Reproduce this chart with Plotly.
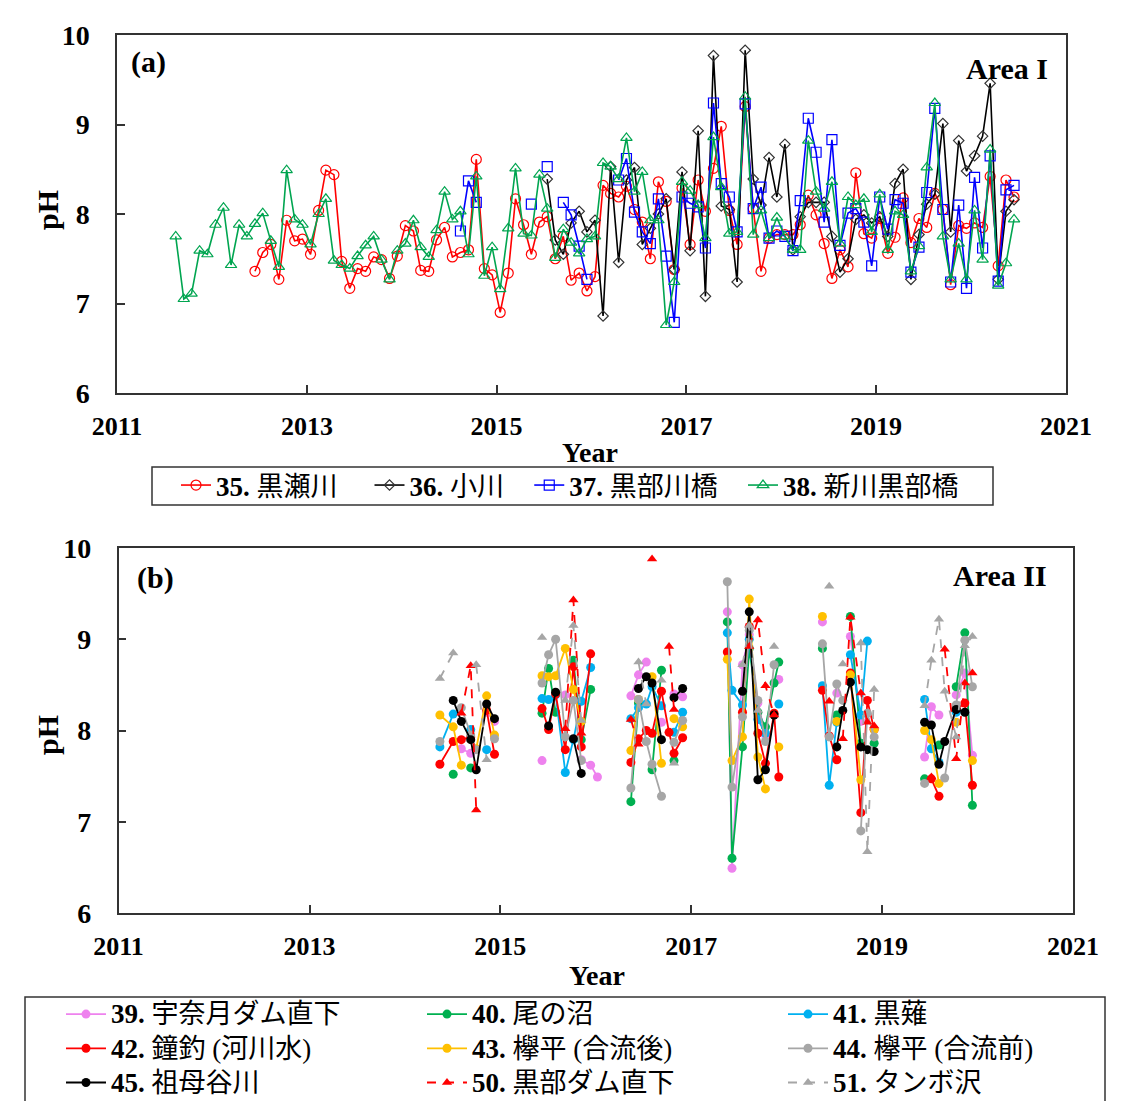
import pandas as pd
import plotly.graph_objects as go

# ---------------- Panel (a): Area I, monthly pH ----------------
A_NAMES = ["35. 黒瀬川", "36. 小川", "37. 黒部川橋", "38. 新川黒部橋"]
A_START = ["2012-06", "2015-07", "2014-08", "2011-08"]

PH_35 = [7.36, 7.57, 7.66, 7.27, 7.93, 7.70, 7.72,
         7.55, 8.04, 8.49, 8.44, 7.47, 7.17, 7.39, 7.36, 7.52, 7.49, 7.28, 7.53,
         7.87, 7.81, 7.37, 7.36, 7.71, 7.85, 7.52, 7.57, 7.60, 8.61, 7.39, 7.32,
         6.90, 7.34, 8.17, 7.88, 7.55, 7.91, 7.97, 7.50, 7.75, 7.26, 7.34, 7.14,
         7.30, 8.32, 8.23, 8.19, 8.31, 8.05, 7.91, 7.50, 8.36, 8.14, 7.38, 8.29,
         7.66, 8.38, 8.03, 8.51, 8.98, 8.04, 7.66, 9.20, 8.06, 7.36, 7.73, 7.77,
         7.77, 7.77, 7.88, 8.21, 7.99, 7.67, 7.28, 7.60, 7.41, 8.46, 7.78, 7.73,
         7.95, 7.56, 7.74, 8.18, 7.68, 7.95, 7.85, 8.23, 8.05, 7.21, 7.87, 7.84,
         7.90, 7.85, 8.42, 7.42, 8.38, 8.19]
PH_36 = [8.39, 7.71, 7.55, 7.90, 8.03, 7.80,
         7.93, 6.86, 8.53, 7.46, 8.38, 8.52, 7.66, 7.84, 8.00, 8.17, 7.38, 8.47,
         7.59, 8.93, 7.08, 9.77, 8.09, 8.05, 7.24, 9.83, 8.39, 8.10, 8.63, 8.19,
         8.78, 7.60, 7.97, 8.13, 8.13, 8.13, 7.75, 7.35, 7.50, 7.94, 7.99, 7.90,
         7.97, 7.75, 8.34, 8.50, 7.27, 7.77, 8.11, 8.22, 9.01, 7.80, 8.82, 8.48,
         8.65, 8.87, 9.46, 7.27, 8.03, 8.16]
PH_37 = [7.81, 8.37, 8.13, None, None,
         None, None, None, None, 8.11, None, 8.53, None, 8.13, 7.99, 7.64, 7.27,
         None, None, None, 8.38, 8.62, 8.02, 7.80, 7.67, 8.17, 7.53, 6.79, 8.19,
         8.12, 8.08, 7.62, 9.24, 8.34, 8.19, 7.80, 9.23, 8.06, 8.30, 7.73, 7.81,
         7.75, 7.59, 8.15, 9.07, 8.69, 7.91, 8.83, 7.65, 8.01, 8.06, 7.91, 7.42,
         8.19, 7.83, 8.16, 8.12, 7.35, 7.63, 8.24, 9.18, 8.05, 7.24, 8.10, 7.17,
         8.41, 7.62, 8.65, 7.25, 8.27, 8.32]
PH_38 = [7.75, 7.05, 7.11, 7.59, 7.55,
         7.88, 8.07, 7.43, 7.88, 7.75, 7.89, 8.01, 7.70, 7.41, 8.49, 7.94, 7.88,
         7.66, 8.00, 8.17, 7.48, 7.43, 7.39, 7.53, 7.65, 7.75, 7.49, 7.27, 7.59,
         7.67, 7.93, 7.63, 7.52, 7.82, 8.25, 7.94, 8.03, 7.55, 8.42, 7.31, 7.63,
         7.16, 7.84, 8.51, 7.78, 7.76, 8.44, 8.06, 7.51, 7.83, 7.68, 7.56, 7.72,
         7.75, 8.57, 8.53, 8.39, 8.85, 8.25, 8.47, 7.93, 7.93, 6.76, 7.24, 8.36,
         8.26, 8.10, 7.73, 8.86, 8.30, 7.78, 7.80, 9.31, 7.77, 8.04, 7.73, 7.96,
         7.75, 7.60, 7.60, 8.82, 8.25, 8.06, 8.36, 7.67, 8.19, 8.10, 8.17, 7.80,
         8.22, 7.60, 8.03, 7.99, 7.36, 7.64, 8.52, 9.24, 7.75, 7.27, 7.67, 7.27,
         8.04, 7.49, 8.72, 7.20, 7.45, 7.94]
A_VALUES = [PH_35, PH_36, PH_37, PH_38]
A_COLORS = ["#FF0000", "#000000", "#0000FF", "#00A550"]
A_SYMBOLS = ["circle-open", "diamond-open", "square-open", "triangle-up-open"]
A_PAD = [4, 3, 3, 0]

# ---------------- Panel (b): Area II, sampling-campaign pH ----------------
B_DATES = ["2014-05-15", "2014-07-05", "2014-08-05", "2014-09-10", "2014-10-01", "2014-11-10", "2014-12-10",
           "2015-06-10", "2015-07-05", "2015-08-01", "2015-09-07", "2015-10-08", "2015-11-07", "2015-12-13", "2016-01-08",
           "2016-05-15", "2016-06-13", "2016-07-13", "2016-08-04", "2016-09-09", "2016-10-08", "2016-10-27", "2016-11-29",
           "2017-05-19", "2017-06-06", "2017-07-16", "2017-08-11", "2017-09-13", "2017-10-12", "2017-11-14", "2017-12-02",
           "2018-05-18", "2018-06-13", "2018-07-12", "2018-08-04", "2018-09-02", "2018-10-12", "2018-11-06", "2018-12-02",
           "2019-06-13", "2019-07-09", "2019-08-07", "2019-08-29", "2019-10-12", "2019-11-14", "2019-12-13"]
N = None
PH_39 = [N, N, 7.80, 7.75, N, 8.20, 8.10,
         7.67, N, N, 8.39, N, 7.68, 7.62, 7.49,
         8.38, 8.61, 8.75, N, 8.09, N, 8.40, 8.37,
         9.30, 6.49, 8.72, 9.05, 8.30, 7.95, N, 8.56,
         9.19, N, 8.41, N, 9.03, 8.10, N, N,
         7.71, 8.26, 8.17, N, 8.39, 8.63, 7.73]
PH_40 = [N, 7.52, N, 7.59, N, N, N,
         8.19, 8.68, 8.20, N, 8.77, 7.90, 8.45, N,
         7.22, 8.30, N, 7.57, 8.66, N, 7.67, N,
         9.19, 6.60, 7.82, 8.90, 8.20, 8.04, 8.52, 8.75,
         8.90, N, 8.17, N, 9.25, 7.86, N, 7.86,
         7.47, N, 7.84, N, 8.48, 9.07, 7.18]
PH_41 = [7.82, 8.18, N, 8.01, N, 7.79, N,
         8.35, 8.34, 8.39, 7.54, 7.90, 8.32, 8.69, N,
         8.13, 8.25, 8.29, 8.48, 8.27, N, 7.98, 8.20,
         9.07, 8.44, 8.28, 9.00, 8.12, 7.97, N, 8.29,
         8.49, 7.40, 8.09, N, 8.83, 8.17, 8.98, N,
         8.34, 7.80, 7.65, N, 8.20, N, N]
PH_42 = [7.63, 7.88, 7.90, 7.93, N, 8.22, 7.74,
         8.24, 8.01, 8.40, 7.79, 8.70, 7.82, 8.84, N,
         7.65, 7.91, 8.00, 7.97, 8.43, 7.98, 7.75, 7.92,
         8.86, N, 8.20, 9.14, 7.97, 7.64, 8.19, 7.49,
         8.44, 7.94, 7.68, N, 8.63, 7.10, 8.33, 8.01,
         N, 7.47, 7.28, N, 8.24, 8.30, 7.40]
PH_43 = [8.17, 8.04, 7.62, N, 7.80, 8.38, 7.95,
         8.60, 8.59, 8.60, 8.90, 8.45, 8.10, N, N,
         7.78, 8.34, N, 8.59, 7.64, N, 8.13, 8.04,
         8.78, 7.67, 7.93, 9.44, 7.71, 7.36, N, 7.82,
         9.25, N, 8.10, N, 8.61, 7.46, N, 8.01,
         8.00, 7.90, 7.42, N, 8.09, N, 7.67]
PH_44 = [7.88, N, 8.25, 7.95, 7.79, N, 7.91,
         8.52, 8.83, 9.00, 7.93, 8.33, 7.67, N, N,
         7.37, 8.34, 7.88, 7.63, 7.28, N, 7.87, 8.11,
         9.63, 7.38, 8.15, 9.10, 8.33, 7.88, 8.72, N,
         8.95, 7.93, 8.51, 8.33, N, 6.90, 8.19, 7.93,
         7.42, N, N, 7.48, 8.28, 8.99, 8.48]
PH_45 = [N, 8.33, 8.10, 7.90, 7.57, 8.29, 8.13,
         N, 8.05, 8.42, N, 7.91, 7.53, N, N,
         N, 8.46, 8.59, 8.52, 7.90, N, 8.36, 8.46,
         N, N, 8.43, 9.30, 7.46, 7.57, 8.17, N,
         N, N, 7.82, 8.22, 8.53, 7.82, 7.79, 7.77,
         8.09, 8.06, 7.63, 7.88, 8.23, 8.20, N]
PH_50 = [N, N, 8.19, 8.71, 7.13, N, N,
         N, N, N, 8.02, 9.43, 7.97, N, N,
         8.12, 7.85, N, 9.88, N, 8.92, 8.23, N,
         N, N, N, 8.92, 9.21, 8.49, 8.17, N,
         N, 8.32, N, 7.91, 9.24, 8.41, 8.09, 8.05,
         N, 7.49, N, 8.89, 7.69, 8.52, 8.63]
PH_51 = [8.57, 8.85, N, N, 8.72, 7.68, N,
         9.02, N, N, 8.33, 9.15, 8.11, N, N,
         N, 8.75, 8.29, N, 8.55, N, 7.64, N,
         N, N, 8.72, 9.15, 8.22, N, 8.92, N,
         N, 9.58, N, 8.73, N, 8.96, 6.67, 8.45,
         8.27, 8.77, 9.22, 8.43, 7.93, 8.93, 9.03]
B_NAMES = ["39. 宇奈月ダム直下", "40. 尾の沼", "41. 黒薙",
           "42. 鐘釣 (河川水)", "43. 欅平 (合流後)", "44. 欅平 (合流前)",
           "45. 祖母谷川", "50. 黒部ダム直下", "51. タンボ沢"]
B_VALUES = [PH_39, PH_40, PH_41, PH_42, PH_43, PH_44, PH_45, PH_50, PH_51]
B_COLORS = ["#EE82EE", "#00B050", "#00B0F0", "#FF0000", "#FFC000", "#A6A6A6",
            "#000000", "#FF0000", "#A6A6A6"]
B_SYMBOLS = ["circle"] * 7 + ["triangle-up"] * 2
B_DASH = ["solid"] * 7 + ["dash"] * 2

YEAR_TICKS = ["2011", "2013", "2015", "2017", "2019", "2021"]

SERIF = "Liberation Serif, Noto Sans CJK JP"
W, H = 1131, 1101
NBSP = "\u00a0"


def label(name, pad=0, size=None):
    num, rest = name.split(" ", 1)
    txt = f"<b>{num}</b> {rest}" + NBSP * pad
    if size:
        txt = f'<span style="font-size:{size}px">{txt}</span>'
    return txt


fig = go.Figure()

for name, start, vals, col, sym, pad in zip(A_NAMES, A_START, A_VALUES, A_COLORS, A_SYMBOLS, A_PAD):
    dates = pd.date_range(start=start + "-01", periods=len(vals), freq="MS") + pd.Timedelta(days=14)
    fig.add_trace(go.Scatter(
        x=dates, y=vals, mode="lines+markers", name=label(name, pad),
        line=dict(color=col, width=1.6),
        marker=dict(symbol=sym, size=10 if sym != "diamond-open" else 8,
                    color=col if col != "#000000" else "#333333", line=dict(width=1.2)),
        xaxis="x", yaxis="y", legend="legend", connectgaps=False))

b_dates = pd.to_datetime(B_DATES)
for name, vals, col, sym, dash in zip(B_NAMES, B_VALUES, B_COLORS, B_SYMBOLS, B_DASH):
    xs, ys = [], []
    for i, (d, v) in enumerate(zip(b_dates, vals)):
        if i > 0 and (d - b_dates[i - 1]).days > 100:
            xs.append(None)
            ys.append(None)
        xs.append(d)
        ys.append(v)
    fig.add_trace(go.Scatter(
        x=xs, y=ys, mode="lines+markers", name=label(name, 0, 27),
        line=dict(color=col, width=1.8, dash=dash),
        marker=dict(symbol=sym, size=9, color=col),
        xaxis="x2", yaxis="y2", legend="legend2", connectgaps=False))

tickvals = [f"{y}-01-01" for y in YEAR_TICKS]
xcommon = dict(type="date", range=["2011-01-01", "2021-01-01"], tickvals=tickvals,
               ticktext=[f"<b>{t}</b>" for t in YEAR_TICKS], ticks="inside", ticklen=8,
               tickwidth=1.5, tickcolor="#333", showline=True, linecolor="#333",
               linewidth=1.5, mirror=True, showgrid=False, zeroline=False,
               ticklabelstandoff=9, tickfont=dict(family=SERIF, size=26, color="black"))
ycommon = dict(range=[6, 10], tickvals=[6, 7, 8, 9, 10],
               ticktext=[f"<b>{v}</b>" for v in [6, 7, 8, 9, 10]], ticks="inside", ticklen=8,
               tickwidth=1.5, tickcolor="#333", showline=True, linecolor="#333",
               linewidth=1.5, mirror=True, showgrid=False, zeroline=False,
               ticklabelstandoff=20, tickfont=dict(family=SERIF, size=28, color="black"))


def px(x0, x1):
    return [x0 / W, x1 / W]


def py(top, bottom):
    return [1 - bottom / H, 1 - top / H]


fig.update_layout(
    width=W, height=H, margin=dict(l=0, r=0, t=0, b=0, autoexpand=False),
    paper_bgcolor="white", plot_bgcolor="white", showlegend=True,
    xaxis=dict(domain=px(117, 1066), anchor="y", **xcommon),
    yaxis=dict(domain=py(35, 393), anchor="x", **ycommon),
    xaxis2=dict(domain=px(118.5, 1073), anchor="y2", **xcommon),
    yaxis2=dict(domain=py(548, 913), anchor="x2", **ycommon),
    legend=dict(orientation="h", x=176 / W, y=1 - 461 / H, xanchor="left", yanchor="top",
                borderwidth=0, bgcolor="rgba(0,0,0,0)",
                font=dict(family=SERIF, size=27, color="black"),
                itemwidth=30, tracegroupgap=0),
    legend2=dict(orientation="h", x=61 / W, y=1 - 992 / H, xanchor="left", yanchor="top",
                 borderwidth=0, bgcolor="rgba(0,0,0,0)",
                 font=dict(family=SERIF, size=24, color="black"),
                 itemwidth=40, entrywidth=306, entrywidthmode="pixels"),
)

# legend frames
for x0, y0, x1, y1 in [(152, 467, 993, 505), (25, 997, 1105, 1112)]:
    fig.add_shape(type="rect", xref="paper", yref="paper",
                  x0=x0 / W, x1=x1 / W, y0=1 - y0 / H, y1=1 - y1 / H,
                  line=dict(color="#333", width=1.5), fillcolor="rgba(0,0,0,0)")

ann = [
    ("<b>(a)</b>", 148, 62, 30, 0),
    ("<b>Area I</b>", 1007, 68, 30, 0),
    ("<b>(b)</b>", 155, 578, 30, 0),
    ("<b>Area II</b>", 1000, 575, 30, 0),
    ("<b>pH</b>", 47, 210, 30, -90),
    ("<b>pH</b>", 47, 735, 30, -90),
    ("<b>Year</b>", 590, 452, 28, 0),
    ("<b>Year</b>", 597, 975, 28, 0),
]
for text, x, y, size, ang in ann:
    fig.add_annotation(text=text, x=x / W, y=1 - y / H, xref="paper", yref="paper",
                       showarrow=False, textangle=ang, xanchor="center", yanchor="middle",
                       font=dict(family=SERIF, size=size, color="black"))

fig.write_html("out.html")
